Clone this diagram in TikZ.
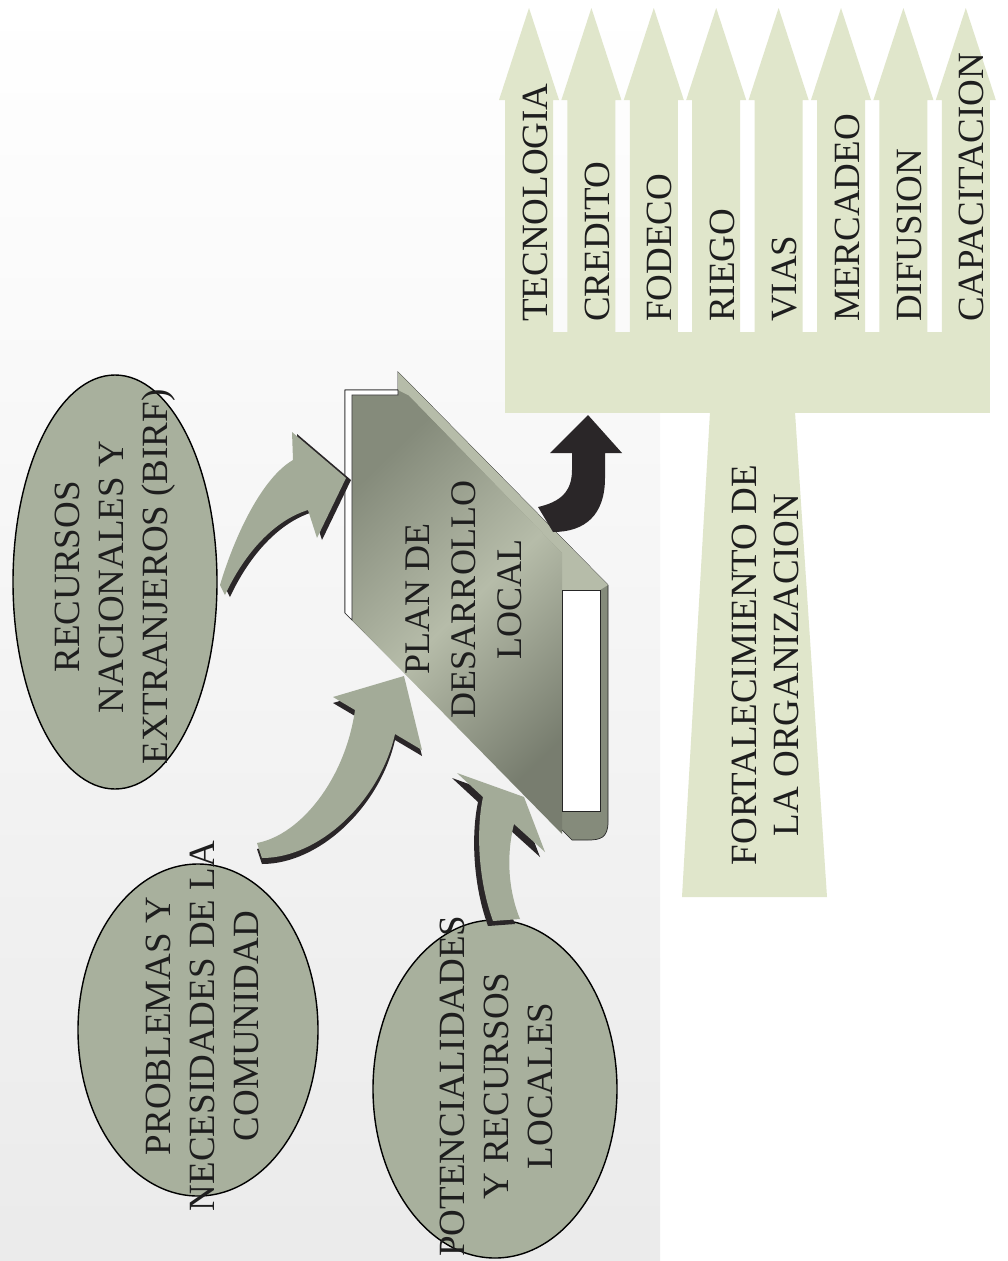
\documentclass[tikz,border=0pt]{standalone}
\usepackage{fontspec}
\setmainfont{Liberation Serif}
\usepackage{tikz}
\usetikzlibrary{calc}
\usepackage{xcolor}
\definecolor{inkgray}{HTML}{1E1E1E}
\definecolor{ovalfill}{HTML}{A8B09D}
\definecolor{treefill}{HTML}{E0E6CB}
\definecolor{coverlight}{HTML}{B6BCA9}
\definecolor{coverdark}{HTML}{858B7B}
\definecolor{arrowfill}{HTML}{A3AB98}
\definecolor{arrowdark}{HTML}{2A2628}
\tikzset{
  oval/.style={fill=ovalfill, draw=black, line width=1.4pt},
  ovaltext/.style={rotate=90, align=center, inner sep=0pt, text=inkgray, font=\fontsize{37}{44}\selectfont},
  booktext/.style={ovaltext, font=\fontsize{36}{46}\selectfont},
  trunktext/.style={ovaltext, font=\fontsize{37}{42}\selectfont},
  branch/.style={fill=treefill},
  branchtext/.style={rotate=90, anchor=west, inner sep=0pt, text=inkgray, font=\fontsize{37}{44}\selectfont},
  flowarrow/.style={fill=arrowfill},
  flowshadow/.style={fill=arrowdark},
  cover/.style={fill=coverdark, draw=black!85, line width=0.7pt},
  pages/.style={fill=white, draw=black!85, line width=0.6pt},
}
% curved block arrows into the plan
\newcommand{\arrowrec}{(220,585) .. controls (235,535) and (262,478) .. (293,460) -- (292,432) -- (346,478)
  -- (317,538) -- (308,510) .. controls (275,520) and (245,552) .. (225,595) -- cycle}
\newcommand{\arrowprob}{(257,843) .. controls (300,835) and (345,780) .. (355,710) -- (333,697) -- (404,676)
  -- (422,750) -- (395,734) .. controls (380,800) and (320,858) .. (262,858) -- cycle}
\newcommand{\arrowpot}{(493,921) .. controls (478,880) and (476,830) .. (483,797) -- (457,773) -- (524,797)
  -- (545,852) -- (514,824) .. controls (505,860) and (510,895) .. (520,919) -- cycle}

\begin{document}
\begin{tikzpicture}[x=1pt, y=-1pt]
  \useasboundingbox (0,0) rectangle (1008,1261);
  % paper
  \fill[white] (0,0) rectangle (1008,1261);
  \shade[top color=white, bottom color=black!8] (0,0) rectangle (660,1261);
  % programme tree: bar, trunk and eight branches
  \fill[branch] (505,332) rectangle (990,413);
  \fill[branch] (710,412) -- (795,412) -- (827,897) -- (682,897) -- cycle;
  \foreach \i/\word in {0/TECNOLOGIA, 1/CREDITO, 2/FODECO, 3/RIEGO, 4/VIAS, 5/MERCADEO, 6/DIFUSION, 7/CAPACITACION}{
    \pgfmathsetmacro\cx{529+62.4*\i}
    \fill[branch] (\cx-24,333) -- (\cx-24,100) -- (\cx-30,100) -- (\cx,8)
      -- (\cx+30,100) -- (\cx+24,100) -- (\cx+24,333) -- cycle;
    \node[branchtext] (lbl\i) at (\cx+6,322) {\word};
  }
  \node[trunktext] (fortalece) at (765,665) {FORTALECIMIENTO DE\\LA ORGANIZACION};
  % ovals
  \draw[oval] (115,582) ellipse [x radius=102, y radius=207];
  \node[ovaltext] (recursos) at (115,577) {RECURSOS\\NACIONALES Y\\EXTRANJEROS (BIRF)};
  \draw[oval] (198,1030) ellipse [x radius=120, y radius=166];
  \node[ovaltext] (problemas) at (202,1026) {PROBLEMAS Y\\NECESIDADES DE LA\\COMUNIDAD};
  \draw[oval] (495,1089) ellipse [x radius=122, y radius=169];
  \node[ovaltext] (potencial) at (496,1086) {POTENCIALIDADES\\Y RECURSOS\\LOCALES};
  % book: cover, top strip, face, spine, pages
  \draw[cover] (345,390) -- (398,390) -- (398,372) -- (608,585) -- (608,822)
    .. controls (608,838) and (600,840) .. (588,840) -- (572,840) -- (345,613) -- cycle;
  \fill[coverlight] (398,372) -- (608,585) -- (600,590) -- (562,590) -- (562,553) -- (408,395) -- (398,390) -- cycle;
  \shade[left color=coverdark, right color=coverdark!90!black, middle color=coverlight, shading angle=44]
    (352,395) -- (408,395) -- (562,553) -- (562,834) -- (352,620) -- cycle;
  \filldraw[pages] (345,390) -- (398,390) -- (398,395) -- (352,395) -- (352,620) -- (345,613) -- cycle;
  \filldraw[pages] (562,590) rectangle (600,811);
  \node[booktext] (plan) at (464,599) {PLAN DE\\DESARROLLO\\LOCAL};
  % inputs
  \fill[flowshadow, shift={(5,2)}] \arrowrec;
  \fill[flowarrow] \arrowrec;
  \fill[flowshadow, shift={(0,6)}] \arrowprob;
  \fill[flowarrow] \arrowprob;
  \fill[flowshadow, shift={(-5,5)}] \arrowpot;
  \fill[flowarrow] \arrowpot;
  % output arrow
  \fill[arrowdark] (538,507) .. controls (560,502) and (572,492) .. (572,470) -- (572,453) -- (550,453)
    -- (588,415) -- (622,453) -- (605,453) -- (605,478) .. controls (605,515) and (585,532) .. (553,532) -- cycle;
\end{tikzpicture}
\end{document}
